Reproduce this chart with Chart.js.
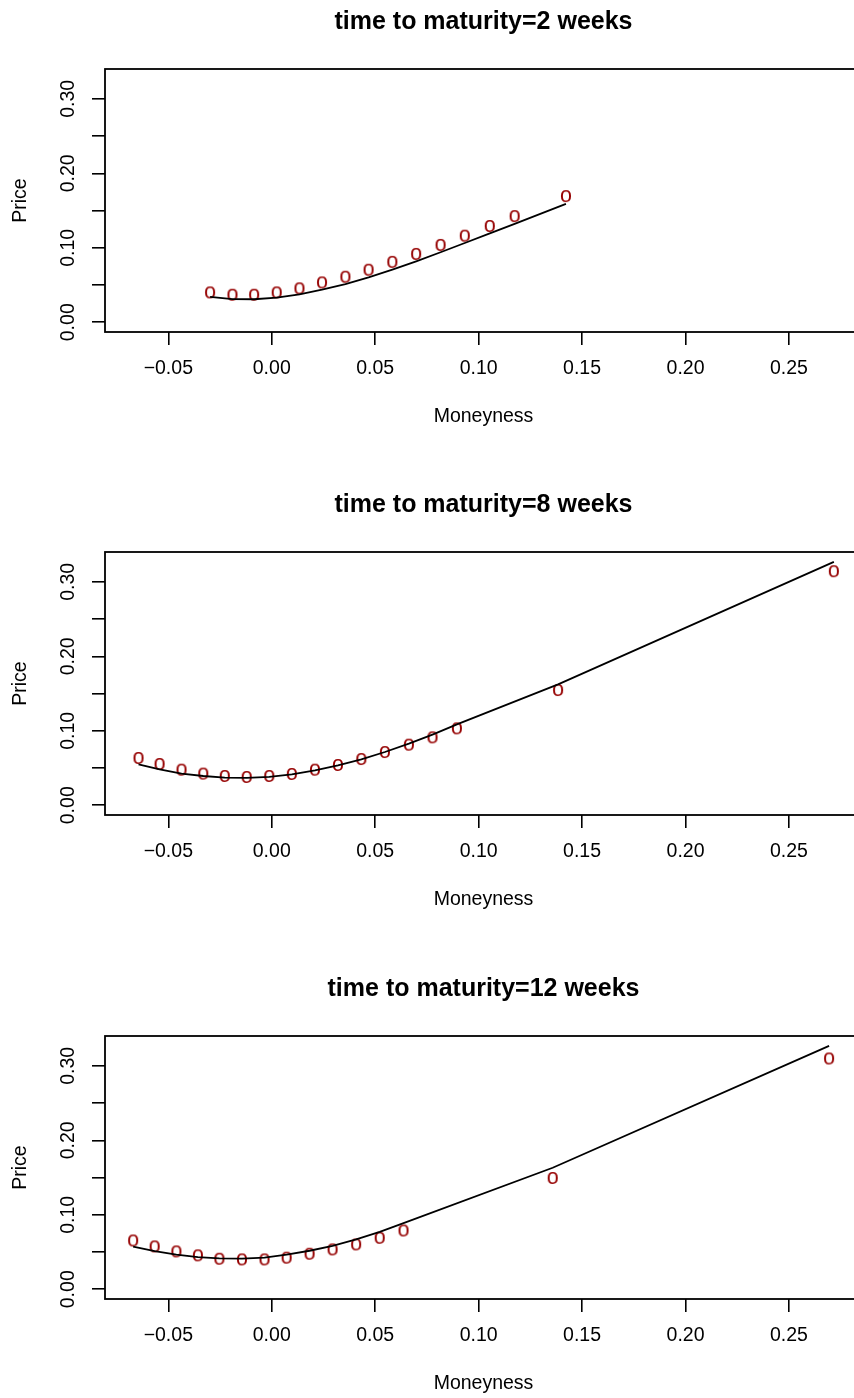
<!DOCTYPE html>
<html>
<head>
<meta charset="utf-8">
<title>Option prices vs moneyness</title>
<script src="https://cdn.jsdelivr.net/npm/chart.js@4.4.1/dist/chart.umd.min.js"></script>
<style>
  html, body { margin: 0; padding: 0; background: #fff; overflow: hidden; width: 854px; height: 1398px; position: relative; }
  .panel { position: absolute; left: 0; }
</style>
</head>
<body>
<canvas id="chart-2w" class="panel" width="870" height="430" style="top:0px;width:870px;height:430px"></canvas>
<canvas id="chart-8w" class="panel" width="870" height="430" style="top:483px;width:870px;height:430px"></canvas>
<canvas id="chart-12w" class="panel" width="870" height="430" style="top:967px;width:870px;height:430px"></canvas>
<script>
// time to maturity = 2 weeks
const moneyness2 = [-0.0298, -0.0190, -0.0085, 0.0024, 0.0134, 0.0243, 0.0356, 0.0468, 0.0583, 0.0698, 0.0816, 0.0933, 0.1054, 0.1174, 0.1422];
const observed2 = [0.0401, 0.0370, 0.0370, 0.0401, 0.0455, 0.0535, 0.0611, 0.0705, 0.0811, 0.0918, 0.1039, 0.1163, 0.1293, 0.1426, 0.1694];
const fitted2 = [0.0340, 0.0310, 0.0309, 0.0330, 0.0375, 0.0437, 0.0513, 0.0603, 0.0707, 0.0818, 0.0940, 0.1064, 0.1193, 0.1322, 0.1590];

// time to maturity = 8 weeks
const moneyness8 = [-0.0644, -0.0542, -0.0436, -0.0331, -0.0227, -0.0121, -0.0012, 0.0097, 0.0209, 0.0320, 0.0433, 0.0547, 0.0663, 0.0777, 0.0895, 0.1384, 0.2717];
const observed8 = [0.0635, 0.0554, 0.0478, 0.0425, 0.0393, 0.0380, 0.0393, 0.0420, 0.0478, 0.0541, 0.0621, 0.0715, 0.0814, 0.0912, 0.1033, 0.1547, 0.3143];
const fitted8 = [0.0550, 0.0483, 0.0425, 0.0393, 0.0371, 0.0367, 0.0380, 0.0416, 0.0469, 0.0536, 0.0617, 0.0715, 0.0827, 0.0948, 0.1086, 0.1623, 0.3268];

// time to maturity = 12 weeks
const moneyness12 = [-0.0670, -0.0566, -0.0461, -0.0357, -0.0253, -0.0144, -0.0035, 0.0072, 0.0183, 0.0294, 0.0408, 0.0522, 0.0637, 0.1358, 0.2694];
const observed12 = [0.0655, 0.0575, 0.0508, 0.0455, 0.0410, 0.0401, 0.0401, 0.0424, 0.0477, 0.0535, 0.0602, 0.0691, 0.0789, 0.1494, 0.3099];
const fitted12 = [0.0571, 0.0513, 0.0464, 0.0432, 0.0415, 0.0410, 0.0424, 0.0464, 0.0517, 0.0584, 0.0669, 0.0771, 0.0887, 0.1632, 0.3268];

// axis ranges and labelled y ticks
const xRange = [-0.0806, 0.2853];
const yRange = [-0.0131, 0.3401];
const yTickLabels = [0.00, 0.10, 0.20, 0.30];

const FONT = '"Liberation Sans", Arial, Helvetica, sans-serif';
const POINT_COLOR = '#960000';

// R style "o" plotting character used as point marker
function makeMarker() {
    const c = document.createElement('canvas');
    c.width = 16;
    c.height = 18;
    const g = c.getContext('2d');
    g.fillStyle = POINT_COLOR;
    g.font = '21.5px ' + FONT;
    g.textAlign = 'center';
    g.textBaseline = 'alphabetic';
    g.fillText('o', 8, 14.6);
    return c;
}
const marker = makeMarker();

function toPoints(xs, ys) {
    return xs.map((x, i) => ({ x: x, y: ys[i] }));
}

// draws the box, the title, the axis titles and the rotated y labels
const basePlotPlugin = {
    id: 'basePlot',
    afterDraw(chart, args, opts) {
        const { ctx, chartArea: a, scales } = chart;
        const cx = (a.left + a.right) / 2;
        ctx.save();
        ctx.strokeStyle = '#000';
        ctx.lineWidth = 1.8;
        ctx.strokeRect(a.left, a.top, a.right - a.left, a.bottom - a.top);

        ctx.fillStyle = '#000';
        ctx.textAlign = 'center';
        ctx.textBaseline = 'middle';
        ctx.font = 'bold 25px ' + FONT;
        ctx.fillText(opts.title, cx, 22);

        ctx.font = '19.5px ' + FONT;
        ctx.fillText('Moneyness', cx, 417);

        yTickLabels.forEach(v => {
            const py = scales.y.getPixelForValue(v);
            ctx.save();
            ctx.translate(69, py);
            ctx.rotate(-Math.PI / 2);
            ctx.fillText(v.toFixed(2), 0, 0);
            ctx.restore();
        });

        ctx.translate(21, (a.top + a.bottom) / 2);
        ctx.rotate(-Math.PI / 2);
        ctx.fillText('Price', 0, 0);
        ctx.restore();
    }
};

function makeChart(canvasId, title, xs, observed, fitted) {
    const ctx = document.getElementById(canvasId).getContext('2d');
    return new Chart(ctx, {
        type: 'scatter',
        data: {
            datasets: [
                {
                    label: 'observed',
                    data: toPoints(xs, observed),
                    pointStyle: marker,
                    pointRadius: 5,
                    showLine: false,
                    order: 1
                },
                {
                    label: 'fitted',
                    data: toPoints(xs, fitted),
                    showLine: true,
                    borderColor: '#000',
                    borderWidth: 1.8,
                    pointRadius: 0,
                    tension: 0,
                    fill: false,
                    order: 0
                }
            ]
        },
        options: {
            responsive: false,
            animation: false,
            devicePixelRatio: 1,
            layout: { padding: { top: 69, right: 8, left: 0, bottom: 0 } },
            plugins: {
                legend: { display: false },
                tooltip: { enabled: false },
                basePlot: { title: title }
            },
            scales: {
                x: {
                    type: 'linear',
                    min: xRange[0],
                    max: xRange[1],
                    border: { display: false },
                    grid: { drawOnChartArea: false, drawTicks: true, tickLength: 13, color: '#000', lineWidth: 1.6 },
                    ticks: {
                        stepSize: 0.05,
                        includeBounds: false,
                        padding: 12,
                        color: '#000',
                        font: { family: FONT, size: 19.5 },
                        maxRotation: 0,
                        callback: v => v.toFixed(2).replace('-', '\u2212')
                    },
                    afterFit: s => { s.height = 98; }
                },
                y: {
                    type: 'linear',
                    min: yRange[0],
                    max: yRange[1],
                    border: { display: false },
                    grid: { drawOnChartArea: false, drawTicks: true, tickLength: 13, color: '#000', lineWidth: 1.6 },
                    ticks: { stepSize: 0.05, includeBounds: false, display: false },
                    afterFit: s => { s.width = 105; }
                }
            }
        },
        plugins: [basePlotPlugin]
    });
}

makeChart('chart-2w', 'time to maturity=2 weeks', moneyness2, observed2, fitted2);
makeChart('chart-8w', 'time to maturity=8 weeks', moneyness8, observed8, fitted8);
makeChart('chart-12w', 'time to maturity=12 weeks', moneyness12, observed12, fitted12);
</script>
</body>
</html>
